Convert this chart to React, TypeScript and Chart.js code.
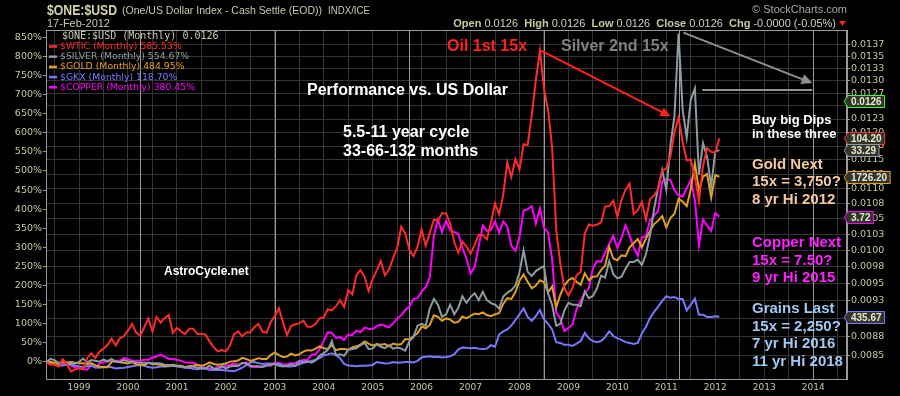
import React, { useEffect, useRef } from "react";
import { Chart, registerables } from "chart.js";
Chart.register(...registerables);

// Monthly data, first point = May 1998 (month index relative to Jan 1999)
const FIRST_MONTH = -8;

const wticPct = [
  0, -7, -6, -12, 7, -5, -25, -20,
  -16, -19, 10, 23, 11, 27, 35, 45, 61, 43, 62, 68,
  82, 100, 77, 69, 91, 114, 80, 118, 103, 115, 123, 76,
  89, 80, 73, 87, 87, 73, 73, 72, 54, 39, 28, 31,
  28, 43, 73, 80, 67, 77, 78, 91, 100, 79, 77, 105,
  120, 141, 104, 70, 94, 99, 101, 108, 92, 92, 100, 114,
  117, 138, 135, 146, 162, 144, 188, 177, 227, 241, 223, 186,
  217, 240, 264, 227, 242, 272, 298, 354, 336, 293, 277, 302,
  347, 304, 338, 373, 369, 390, 389, 362, 314, 286, 315, 302,
  283, 307, 333, 332, 321, 365, 415, 387, 437, 522, 484, 531,
  504, 570, 568, 646, 738, 815, 716, 660, 562, 346, 258, 193,
  174, 194, 227, 236, 336, 360, 357, 360, 365, 407, 408, 422,
  380, 424, 451, 467, 387, 398, 419, 373, 426, 436, 453, 501,
  507, 538, 602, 640, 576, 528, 530, 484, 421, 513, 560, 550,
  548, 585.53,
];

const silverPct = [
  0, 8, 5, -3, 2, -3, -5, -4,
  0, 9, -1, 5, 3, 1, 6, 2, 8, 0, 0, 5,
  2, 1, -1, -2, -2, -2, -3, -3, -4, -7, -8, -10,
  -11, -12, -14, -14, -12, -15, -16, -17, -9, -17, -19, -10,
  -17, -12, -10, -11, -2, -4, -10, -11, -11, -13, -10, -7,
  -4, -10, -12, -10, -6, -10, 2, 0, 2, -2, 4, 17,
  23, 32, 55, 18, 20, 16, 32, 34, 36, 44, 50, 34,
  35, 46, 40, 36, 44, 35, 38, 35, 30, 55, 65, 95,
  100, 95, 140, 165, 150, 118, 125, 150, 125, 142, 172, 155,
  170, 180, 162, 184, 162, 154, 150, 140, 171, 181, 188, 200,
  235, 292, 236, 225, 238, 245, 251, 180, 150, 95, 100, 135,
  155, 150, 150, 146, 185, 167, 173, 193, 226, 221, 264, 230,
  219, 223, 244, 262, 262, 268, 254, 282, 331, 400, 457, 502,
  451, 567, 645, 860, 660, 588, 687, 716, 490, 573, 537, 460,
  551, 554.67,
];

const goldPct = [
  0, 0, -2, -7, 0, -1, 0, -2,
  -3, -3, -5, -3, -9, -12, -14, -14, 1, 2, -1, -2,
  -4, 0, -6, -7, -8, -2, -6, -6, -7, -11, -9, -7,
  -10, -10, -13, -11, -10, -8, -10, -7, -1, -5, -7, -6,
  -4, 1, 2, 4, 11, 8, 3, 6, 10, 8, 8, 18,
  25, 18, 13, 14, 22, 17, 20, 27, 31, 30, 35, 41,
  36, 34, 44, 31, 34, 34, 32, 38, 41, 45, 54, 48,
  43, 47, 45, 47, 41, 48, 45, 47, 60, 59, 68, 75,
  93, 88, 97, 122, 118, 108, 114, 111, 103, 105, 119, 114,
  121, 127, 125, 130, 123, 120, 125, 128, 152, 167, 165, 183,
  213, 229, 210, 193, 200, 214, 209, 182, 198, 143, 176, 200,
  214, 220, 210, 202, 232, 214, 223, 224, 241, 252, 301, 271,
  266, 279, 277, 300, 311, 322, 300, 323, 343, 361, 370, 382,
  352, 377, 388, 427, 420, 408, 452, 520, 449, 485, 492, 430,
  489, 484.95,
];

const gkxPct = [
  0, -3, -7, -10, -9, -6, -7, -9,
  -12, -13, -11, -10, -14, -15, -13, -12, -14, -17, -16, -15,
  -13, -11, -9, -8, -10, -13, -15, -14, -12, -12, -11, -10,
  -11, -13, -15, -16, -18, -19, -17, -18, -20, -21, -20, -21,
  -22, -23, -24, -20, -15, -8, -1, 0, -3, -5, -4, -4,
  -5, -6, -9, -12, -12, -10, -6, -2, 0, 3, 6, 10,
  17, 20, 23, 18, 10, -5, -9, -10, -11, -10, -10, -9,
  -8, 0, -2, -4, -3, 0, -2, -1, 0, 0, -1, 3,
  12, 14, 15, 13, 14, 12, 13, 15, 20, 33, 38, 37,
  36, 37, 35, 34, 35, 44, 40, 72, 80, 85, 95, 110,
  125, 140, 118, 108, 120, 136, 112, 100, 85, 52, 50, 45,
  45, 42, 48, 55, 76, 62, 55, 52, 55, 65, 80, 68,
  62, 58, 52, 50, 47, 50, 75, 92, 115, 131, 145, 160,
  172, 168, 170, 165, 165, 135, 150, 166, 124, 124, 118, 118,
  120, 118.7,
];

const copperPct = [
  0, -3, -4, -6, -6, -7, -8, -15,
  -17, -19, -20, -7, -15, -4, -1, 1, 5, 3, 3, 10,
  8, 3, 3, 3, 6, 6, 11, 15, 19, 14, 8, 8,
  6, 3, -1, -2, -2, -7, -12, -15, -17, -20, -12, -15,
  -10, -8, -4, -7, -4, -1, -13, -13, -13, -12, -6, -10,
  -2, -2, -7, -6, -3, -3, 3, 5, 5, 19, 20, 34,
  55, 78, 76, 63, 65, 58, 72, 70, 82, 78, 90, 87,
  86, 94, 98, 95, 91, 101, 114, 122, 136, 145, 165, 167,
  184, 196, 222, 330, 372, 340, 370, 345, 340, 335, 298, 271,
  231, 249, 303, 357, 343, 346, 368, 339, 368, 355, 304, 291,
  327, 396, 400, 408, 362, 402, 352, 339, 269, 130, 114, 81,
  89, 98, 139, 161, 180, 193, 246, 264, 262, 286, 309, 330,
  298, 325, 358, 330, 300, 278, 326, 330, 371, 383, 395, 473,
  479, 476, 450, 436, 433, 454, 477, 424, 306, 373, 357, 343,
  389, 380.45,
];

const seriesNames = ["$WTIC", "$SILVER", "$GOLD", "$GKX", "$COPPER"];
const seriesColors = ["#ff2a2a", "#8c9ca2", "#e0a020", "#7878ff", "#ff00ff"];
const seriesLastText = ["585.53%", "554.67%", "484.95%", "118.70%", "380.45%"];
const seriesLastPrice = ["104.20", "33.29", "1726.20", "435.67", "3.72"];

const yearLabels = ["1999", "2000", "2001", "2002", "2003", "2004", "2005", "2006", "2007", "2008", "2009", "2010", "2011", "2012", "2013", "2014"];
const leftTickValues = [0, 50, 100, 150, 200, 250, 300, 350, 400, 450, 500, 550, 600, 650, 700, 750, 800, 850];
const rightTickValues = [0.0085, 0.00875, 0.009, 0.00925, 0.0095, 0.00975, 0.01, 0.01025, 0.0105, 0.01075, 0.011, 0.01125, 0.0115, 0.01175, 0.012, 0.01225, 0.0125, 0.01275, 0.013, 0.01325, 0.0135, 0.01375];
const rightTickLabels = ["0.0085", "0.0088", "0.0090", "0.0093", "0.0095", "0.0098", "0.0100", "0.0103", "0.0105", "0.0108", "0.0110", "0.0113", "0.0115", "0.0118", "0.0120", "0.0123", "0.0125", "0.0127", "0.0130", "0.0133", "0.0135", "0.0137"];
const cycleMonths = [15, 48, 81, 114, 147, 180];
const oneUsdClose = 0.0126;

const AX = "#c8c8a0";
const SANS = '"Liberation Sans", Arial, sans-serif';
const DJ = '"DejaVu Sans", sans-serif';

function arrow(ctx: CanvasRenderingContext2D, x1: number, y1: number, x2: number, y2: number, color: string, head: number) {
  const a = Math.atan2(y2 - y1, x2 - x1);
  ctx.strokeStyle = color;
  ctx.fillStyle = color;
  ctx.lineWidth = 2;
  ctx.beginPath();
  ctx.moveTo(x1, y1);
  ctx.lineTo(x2 - head * 0.8 * Math.cos(a), y2 - head * 0.8 * Math.sin(a));
  ctx.stroke();
  ctx.beginPath();
  ctx.moveTo(x2, y2);
  ctx.lineTo(x2 - head * Math.cos(a - 0.45), y2 - head * Math.sin(a - 0.45));
  ctx.lineTo(x2 - head * Math.cos(a + 0.45), y2 - head * Math.sin(a + 0.45));
  ctx.closePath();
  ctx.fill();
}

function text(ctx: CanvasRenderingContext2D, s: string, x: number, y: number, font: string, color: string, align: CanvasTextAlign = "left", maxW?: number) {
  ctx.font = font;
  ctx.fillStyle = color;
  ctx.textAlign = align;
  ctx.textBaseline = "middle";
  if (maxW) ctx.fillText(s, x, y, maxW);
  else ctx.fillText(s, x, y);
}

function valueBox(ctx: CanvasRenderingContext2D, x: number, y: number, s: string, border: string) {
  ctx.font = `bold 10px ${SANS}`;
  const w = ctx.measureText(s).width + 6;
  const h = 12;
  const top = Math.round(y - h / 2) + 0.5;
  ctx.beginPath();
  ctx.moveTo(x - 3, top + h / 2);
  ctx.lineTo(x + 1, top);
  ctx.lineTo(x + 1 + w, top);
  ctx.lineTo(x + 1 + w, top + h);
  ctx.lineTo(x + 1, top + h);
  ctx.closePath();
  ctx.fillStyle = "#353530";
  ctx.fill();
  ctx.strokeStyle = border;
  ctx.lineWidth = 1;
  ctx.stroke();
  text(ctx, s, x + 4, top + h / 2 + 0.5, `bold 10px ${SANS}`, "#e8e8c8");
}

const overlayPlugin = {
  id: "overlay",
  beforeDatasetsDraw(chart: any) {
    const { ctx, chartArea, scales } = chart;
    ctx.save();
    ctx.strokeStyle = "#9a9a9a";
    ctx.lineWidth = 1;
    cycleMonths.forEach((m) => {
      const x = Math.round(scales.x.getPixelForValue(m)) + 0.5;
      ctx.beginPath();
      ctx.moveTo(x, chartArea.top);
      ctx.lineTo(x, chartArea.bottom);
      ctx.stroke();
    });
    ctx.restore();
  },
  afterDraw(chart: any) {
    const { ctx, chartArea, scales } = chart;
    const xs = scales.x;
    const yl = scales.y;
    const yr = scales.y2;
    ctx.save();
    // frame
    ctx.strokeStyle = "#9a9a9a";
    ctx.lineWidth = 1;
    ctx.strokeRect(chartArea.left + 0.5, chartArea.top + 0.5, chartArea.right - chartArea.left - 1, chartArea.bottom - chartArea.top);

    // header
    text(ctx, "$ONE:$USD", 47, 11, `bold 14px ${SANS}`, "#d4d4ac", "left", 70);
    text(ctx, "(One/US Dollar Index - Cash Settle (EOD))", 122, 11, `11.5px ${SANS}`, "#c8c8b0", "left", 200);
    text(ctx, "INDX/ICE", 328, 11, `10px ${SANS}`, "#c8c8b0", "left", 42);
    text(ctx, "17-Feb-2012", 47, 24, `11px ${SANS}`, "#c8c8b0");
    text(ctx, "\u00a9 StockCharts.com", 847, 10, `11px ${SANS}`, "#a8a8a8", "right");

    const parts: [string, boolean][] = [
      ["Open", true], [" 0.0126  ", false], ["High", true], [" 0.0126  ", false], ["Low", true], [" 0.0126  ", false],
      ["Close", true], [" 0.0126  ", false], ["Chg", true], [" -0.0000 (-0.05%)", false],
    ];
    let total = 0;
    parts.forEach(([s, b]) => { ctx.font = `${b ? "bold " : ""}11px ${SANS}`; total += ctx.measureText(s).width; });
    let px = 836 - total;
    parts.forEach(([s, b]) => {
      const f = `${b ? "bold " : ""}11px ${SANS}`;
      text(ctx, s, px, 24, f, b ? "#c8c8a0" : "#d0d0c0");
      ctx.font = f;
      px += ctx.measureText(s).width;
    });
    ctx.fillStyle = "#ff2020";
    ctx.beginPath();
    ctx.moveTo(839, 21);
    ctx.lineTo(846, 21);
    ctx.lineTo(842.5, 26);
    ctx.closePath();
    ctx.fill();

    // legend
    text(ctx, "$ONE:$USD (Monthly) 0.0126", 62, 36, `10px "DejaVu Sans Mono", monospace`, "#c8c8b0", "left", 162);
    seriesNames.forEach((n, i) => {
      const y = 46.5 + i * 10.2;
      ctx.strokeStyle = seriesColors[i];
      ctx.lineWidth = 2.5;
      ctx.beginPath();
      ctx.moveTo(49, y);
      ctx.lineTo(57, y);
      ctx.stroke();
      text(ctx, `${n} (Monthly) ${seriesLastText[i]}`, 60, y, `9.3px ${DJ}`, seriesColors[i]);
    });

    // annotation texts
    text(ctx, "Oil 1st 15x", 447, 47, `bold 16px ${SANS}`, "#ff2020");
    text(ctx, "Silver 2nd 15x", 561, 47, `bold 16px ${SANS}`, "#808080");
    text(ctx, "Performance vs. US Dollar", 307, 91, `bold 16px ${SANS}`, "#ffffff");
    text(ctx, "5.5-11 year cycle", 343, 133, `bold 16px ${SANS}`, "#ffffff");
    text(ctx, "33-66-132 months", 343, 152, `bold 16px ${SANS}`, "#ffffff");
    text(ctx, "AstroCycle.net", 164, 272, `bold 12px ${SANS}`, "#ffffff");
    text(ctx, "Buy big Dips", 752, 120, `bold 13px ${SANS}`, "#ffffff");
    text(ctx, "in these three", 752, 134, `bold 13px ${SANS}`, "#ffffff");
    const gold = "#f5c8a0";
    text(ctx, "Gold Next", 752, 165, `bold 15px ${SANS}`, gold);
    text(ctx, "15x = 3,750?", 752, 182, `bold 15px ${SANS}`, gold);
    text(ctx, "8 yr Hi 2012", 752, 200, `bold 15px ${SANS}`, gold);
    const cop = "#ff22ff";
    text(ctx, "Copper Next", 752, 243, `bold 15px ${SANS}`, cop);
    text(ctx, "15x = 7.50?", 752, 261, `bold 15px ${SANS}`, cop);
    text(ctx, "9 yr Hi 2015", 752, 278, `bold 15px ${SANS}`, cop);
    const gr = "#a0c8f0";
    text(ctx, "Grains Last", 752, 309, `bold 15px ${SANS}`, gr);
    text(ctx, "15x = 2,250?", 752, 327, `bold 15px ${SANS}`, gr);
    text(ctx, "7 yr Hi 2016", 752, 344, `bold 15px ${SANS}`, gr);
    text(ctx, "11 yr Hi 2018", 752, 362, `bold 15px ${SANS}`, gr);

    // arrows (in data space)
    arrow(ctx, xs.getPixelForValue(113.3), yl.getPixelForValue(815), xs.getPixelForValue(145), yl.getPixelForValue(643), "#ff2020", 11);
    arrow(ctx, xs.getPixelForValue(148.2), yl.getPixelForValue(862), xs.getPixelForValue(179.8), yl.getPixelForValue(730), "#909090", 12);
    ctx.strokeStyle = "#909090";
    ctx.lineWidth = 2;
    ctx.beginPath();
    const hy = Math.round(yl.getPixelForValue(712));
    ctx.moveTo(xs.getPixelForValue(152.8), hy);
    ctx.lineTo(xs.getPixelForValue(179.8), hy);
    ctx.stroke();

    // right-axis value boxes
    const bx = chartArea.right;
    valueBox(ctx, bx, yr.getPixelForValue(oneUsdClose), "0.0126", "#40ff40");
    const lasts = [wticPct, silverPct, goldPct, gkxPct, copperPct].map((a) => a[a.length - 1]);
    lasts.forEach((v, i) => valueBox(ctx, bx, yl.getPixelForValue(v), seriesLastPrice[i], seriesColors[i]));
    ctx.restore();
  },
};

export default function App() {
  const ref = useRef<HTMLCanvasElement | null>(null);
  useEffect(() => {
    if (!ref.current) return;
    const mk = (arr: number[]) => arr.map((v, i) => ({ x: FIRST_MONTH + i, y: v }));
    const all = [wticPct, silverPct, goldPct, gkxPct, copperPct];
    const chart = new Chart(ref.current, {
      type: "line",
      data: {
        datasets: all.map((arr, i) => ({
          label: seriesNames[i],
          data: mk(arr),
          borderColor: seriesColors[i],
          backgroundColor: seriesColors[i],
          borderWidth: 2,
          pointRadius: 0,
          tension: 0,
          yAxisID: "y",
          xAxisID: "x",
        })),
      },
      options: {
        animation: false,
        responsive: false,
        maintainAspectRatio: false,
        devicePixelRatio: 1,
        layout: { padding: { top: 30, left: 0, right: 0, bottom: 0 } },
        plugins: { legend: { display: false }, tooltip: { enabled: false } },
        scales: {
          x: {
            type: "linear",
            min: -8.1,
            max: 188.3,
            afterBuildTicks: (axis: any) => {
              const t = [];
              for (let m = -6; m <= 186; m += 6) t.push({ value: m });
              axis.ticks = t;
            },
            afterFit: (axis: any) => { axis.height = 17; },
            ticks: {
              autoSkip: false,
              maxRotation: 0,
              padding: 3,
              color: AX,
              font: { family: DJ, size: 9 },
              callback: (v: any) => (v % 12 === 0 && v >= 0 ? yearLabels[v / 12] : ""),
            },
            grid: { color: "#343434", drawTicks: false },
            border: { color: "#9a9a9a" },
          },
          y: {
            type: "linear",
            position: "left",
            min: -44.5,
            max: 869,
            afterBuildTicks: (axis: any) => { axis.ticks = leftTickValues.map((v) => ({ value: v })); },
            afterFit: (axis: any) => { axis.width = 46; },
            ticks: {
              autoSkip: false,
              padding: 1,
              color: AX,
              font: { family: DJ, size: 9.5 },
              callback: (v: any) => `${v}%`,
            },
            grid: { drawOnChartArea: false, tickLength: 3, tickColor: "#9a9a9a" },
            border: { color: "#9a9a9a" },
          },
          y2: {
            type: "logarithmic",
            position: "right",
            min: 0.008221,
            max: 0.014055,
            afterBuildTicks: (axis: any) => { axis.ticks = rightTickValues.map((v) => ({ value: v })); },
            afterFit: (axis: any) => { axis.width = 53; },
            ticks: {
              autoSkip: false,
              padding: 1,
              color: AX,
              font: { family: DJ, size: 9.5 },
              callback: (v: any) => {
                const i = rightTickValues.indexOf(v);
                return i >= 0 ? rightTickLabels[i] : "";
              },
            },
            grid: { color: "#343434", tickLength: 3, tickColor: "#9a9a9a" },
            border: { color: "#9a9a9a" },
          },
        },
      } as any,
      plugins: [overlayPlugin],
    });
    return () => chart.destroy();
  }, []);
  return (
    <div style={{ position: "fixed", left: 0, top: 0, width: 900, height: 396, background: "#000" }}>
      <canvas ref={ref} width={900} height={396} style={{ display: "block" }} />
    </div>
  );
}
